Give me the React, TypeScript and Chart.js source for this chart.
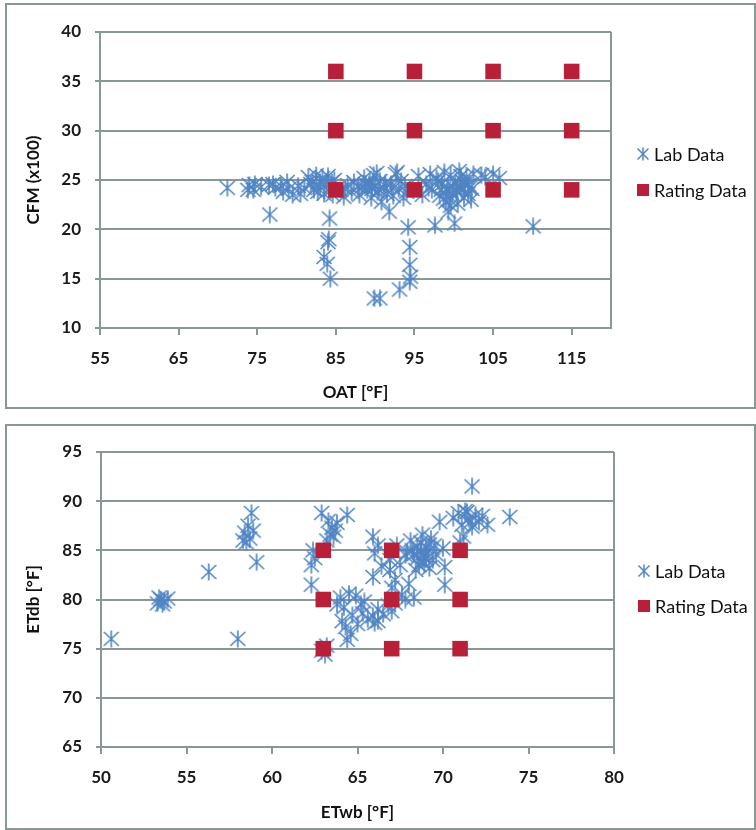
import React, { useEffect, useRef } from "react";
import { Chart, registerables } from "chart.js";
Chart.register(...registerables);

// ---------- Top chart data: OAT vs CFM (x100) ----------
const topLabOAT = [
  71.2, 73.8, 74.0, 74.5, 74.7, 76.5, 77.0, 77.3, 76.6, 78.0, 78.3, 79.0, 79.5, 80.2, 80.5, 81.0,
  81.5, 82.0, 82.2, 82.5, 83.0, 83.3, 83.5, 83.8, 84.0, 84.4, 84.6, 84.8, 84.2, 84.0, 84.1, 83.5,
  83.9, 84.3, 85.6, 86.0, 86.5, 87.0, 87.3, 88.0, 88.3, 88.6, 89.0, 89.3, 89.5, 89.8, 90.0, 90.3,
  90.6, 90.8, 91.1, 91.5, 92.0, 92.3, 92.6, 93.0, 93.3, 93.6, 91.8, 94.2, 94.4, 94.4, 94.4, 94.5,
  93.1, 89.9, 90.6, 95.5, 96.0, 96.5, 97.2, 97.6, 97.8, 98.2, 98.5, 98.8, 99.0, 99.3, 99.3, 99.6,
  99.8, 100.1, 100.2, 100.5, 100.7, 101.0, 101.3, 101.6, 101.9, 102.2, 102.5, 102.3, 103.5, 104.0,
  105.0, 105.8, 110.1, 83.0, 82.7, 88.8, 89.6, 98.0, 100.9, 101.4, 99.5, 97.0, 92.8, 90.2,
  81.8, 84.5, 86.2, 87.8, 89.2, 90.5, 91.3, 92.1, 96.8, 98.4, 99.1, 99.9, 100.4, 100.8, 101.2,
  101.8, 102.0, 98.7, 99.6, 100.3, 93.8, 94.0, 75.5, 78.8,
];
const topLabCFM = [
  24.2, 24.0, 24.5, 24.0, 24.6, 24.5, 24.6, 24.2, 21.5, 24.4, 23.8, 24.1, 23.5, 24.4, 23.6, 24.2,
  25.3, 24.8, 24.0, 25.5, 24.3, 25.2, 23.6, 24.6, 25.4, 24.0, 23.5, 25.0, 21.1, 18.7, 19.0, 17.2,
  16.5, 15.0, 24.0, 23.3, 24.5, 23.8, 24.8, 23.5, 24.3, 25.2, 24.0, 24.8, 23.2, 25.5, 24.4, 23.8,
  24.9, 22.8, 24.2, 23.6, 24.6, 23.4, 25.6, 24.1, 24.9, 23.2, 21.8, 20.2, 18.2, 16.4, 14.7, 15.2,
  13.9, 13.0, 13.0, 25.4, 23.5, 24.6, 24.0, 20.4, 25.2, 23.4, 24.6, 25.8, 22.8, 21.8, 24.2, 25.5,
  23.6, 20.6, 24.8, 22.6, 25.9, 24.0, 23.2, 25.3, 24.5, 23.0, 25.6, 24.1, 25.5, 25.3,
  25.6, 25.2, 20.3, 24.8, 23.8, 24.6, 24.1, 24.9, 25.4, 24.6, 23.0, 25.6, 25.8, 25.7,
  24.6, 24.8, 24.1, 24.3, 24.5, 24.0, 24.7, 24.3, 24.2, 24.0, 23.9, 24.3, 23.8, 24.4, 24.8,
  23.6, 24.2, 23.1, 22.4, 23.9, 24.4, 23.8, 24.3, 24.8,
];
const topRatingOAT = [85, 85, 85, 95, 95, 95, 105, 105, 105, 115, 115, 115];
const topRatingCFM = [36, 30, 24, 36, 30, 24, 36, 30, 24, 36, 30, 24];
const topXTicks = [55, 65, 75, 85, 95, 105, 115];
const topYTicks = [10, 15, 20, 25, 30, 35, 40];

// ---------- Bottom chart data: ETwb vs ETdb ----------
const botLabETwb = [
  50.6, 58.0, 56.3, 59.1,
  53.3, 53.5, 53.7, 53.6, 53.9, 53.4,
  58.8, 58.6, 58.4, 58.7, 58.5, 58.9, 58.3,
  62.4, 62.3, 62.3, 62.5,
  62.9, 63.3, 63.5, 63.8, 63.4, 63.6, 63.2, 64.4, 63.7,
  63.1, 63.2, 62.9,
  64.0, 64.5, 64.9, 65.2, 64.2, 64.7, 65.3, 65.6, 65.0, 64.3, 64.6, 64.4, 65.9, 66.2, 65.4, 63.8,
  64.1, 66.5, 66.8, 67.0, 66.0,
  65.9, 66.0, 65.9, 66.2, 66.4,
  66.9, 66.9, 67.2, 67.0, 67.5, 67.3, 67.8, 67.6, 68.0, 68.3,
  68.2, 68.5, 68.7, 68.9, 69.1, 69.3, 68.4, 68.8, 69.0, 69.4, 68.6, 69.2, 68.1, 69.5, 68.9,
  70.0, 70.1, 70.1, 69.8,
  70.6, 70.9, 71.1, 71.3, 71.5, 71.7, 71.9, 72.1, 72.3, 72.6, 71.2, 71.0, 71.7, 73.9,
  66.2, 67.2, 67.8,
  68.3, 68.7, 69.0, 69.2, 68.5, 68.8, 67.9, 69.6, 71.4, 71.6,
];
const botLabETdb = [
  76.0, 76.0, 82.8, 83.8,
  79.6, 80.0, 79.8, 79.5, 80.1, 80.2,
  88.8, 87.5, 86.8, 86.2, 85.8, 87.0, 86.0,
  85.0, 83.5, 81.5, 84.2,
  88.8, 88.0, 87.3, 87.8, 86.6, 86.4, 86.0, 88.6, 87.0,
  74.4, 75.3, 74.8,
  80.2, 80.6, 80.4, 79.5, 79.2, 78.4, 78.6, 78.0, 77.5, 77.2, 76.5, 75.9, 78.3, 79.0, 79.8, 79.5,
  77.8, 78.5, 79.4, 78.8, 77.6,
  86.4, 84.7, 82.3, 85.5, 83.4,
  84.0, 83.0, 82.0, 81.2, 83.5, 85.5, 84.5, 80.5, 81.6, 80.2,
  85.0, 84.2, 85.8, 83.6, 84.8, 86.2, 83.0, 86.6, 85.3, 84.0, 83.5, 83.2, 86.0, 85.5, 84.4,
  85.2, 83.3, 81.5, 87.9,
  88.3, 88.8, 87.6, 89.0, 88.2, 87.4, 88.6, 87.9, 88.5, 87.6, 86.4, 85.8, 91.5, 88.4,
  77.8, 79.6, 80.0,
  84.6, 84.9, 84.1, 85.6, 85.4, 83.9, 84.8, 84.6, 88.9, 87.9,
];
const botRatingETwb = [63, 63, 63, 67, 67, 67, 71, 71, 71];
const botRatingETdb = [85, 80, 75, 85, 80, 75, 85, 80, 75];
const botXTicks = [50, 55, 60, 65, 70, 75, 80];
const botYTicks = [65, 70, 75, 80, 85, 90, 95];

const BLUE = "#4f84c4";
const RED = "#b8203a";
const GRID = "#8a9894";
const FONT = "Lato, 'Open Sans', sans-serif";

function makeStar(): HTMLCanvasElement {
  const c = document.createElement("canvas");
  c.width = 18;
  c.height = 18;
  const ctx = c.getContext("2d")!;
  ctx.strokeStyle = BLUE;
  ctx.lineWidth = 1.6;
  ctx.lineCap = "butt";
  ctx.beginPath();
  ctx.moveTo(9, 0.5);
  ctx.lineTo(9, 17.5);
  ctx.moveTo(1.5, 2);
  ctx.lineTo(16.5, 16);
  ctx.moveTo(16.5, 2);
  ctx.lineTo(1.5, 16);
  ctx.stroke();
  return c;
}

const framePlugin = {
  id: "frame",
  beforeDatasetsDraw(chart: any) {
    const { ctx, chartArea } = chart;
    ctx.save();
    ctx.strokeStyle = GRID;
    ctx.lineWidth = 2;
    ctx.beginPath();
    ctx.moveTo(Math.round(chartArea.right), chartArea.top);
    ctx.lineTo(Math.round(chartArea.right), chartArea.bottom);
    ctx.stroke();
    ctx.restore();
  },
};

type Cfg = {
  labX: number[];
  labY: number[];
  ratX: number[];
  ratY: number[];
  xTicks: number[];
  yTicks: number[];
  xMin: number;
  xMax: number;
  yMin: number;
  yMax: number;
  xTitle: string;
  yTitle: string;
  padTop: number;
  padRight: number;
  yWidth: number;
  xHeight: number;
};

function buildChart(canvas: HTMLCanvasElement, c: Cfg) {
  const star = makeStar();
  const tickFont = { family: FONT, size: 17, weight: "bold" as const };
  const titleFont = { family: FONT, size: 17, weight: "bold" as const };
  return new Chart(canvas, {
    type: "scatter",
    data: {
      datasets: [
        {
          label: "Rating Data",
          data: c.ratX.map((x, i) => ({ x, y: c.ratY[i] })),
          pointStyle: "rect",
          pointRadius: 11,
          pointHoverRadius: 11,
          backgroundColor: RED,
          borderColor: RED,
          borderWidth: 0,
          order: 0,
        },
        {
          label: "Lab Data",
          data: c.labX.map((x, i) => ({ x, y: c.labY[i] })),
          pointStyle: star as any,
          pointRadius: 8,
          backgroundColor: BLUE,
          borderColor: BLUE,
          order: 1,
        },
      ],
    },
    options: {
      animation: false,
      responsive: false,
      maintainAspectRatio: false,
      layout: { padding: { left: 0, top: c.padTop, right: c.padRight, bottom: 0 } },
      plugins: { legend: { display: false }, tooltip: { enabled: false } },
      scales: {
        x: {
          type: "linear",
          min: c.xMin,
          max: c.xMax,
          afterBuildTicks: (s: any) => {
            s.ticks = c.xTicks.map((v) => ({ value: v }));
          },
          afterFit: (s: any) => {
            s.height = c.xHeight;
          },
          grid: { drawOnChartArea: false, color: GRID, lineWidth: 2, tickLength: 7 },
          border: { color: GRID, width: 2 },
          ticks: { font: tickFont, color: "#1a1a1a", padding: 13, maxRotation: 0 },
          title: {
            display: true,
            text: c.xTitle,
            font: titleFont,
            color: "#111",
            padding: { top: 0, bottom: 7 },
          },
        },
        y: {
          type: "linear",
          min: c.yMin,
          max: c.yMax,
          afterBuildTicks: (s: any) => {
            s.ticks = c.yTicks.map((v) => ({ value: v }));
          },
          afterFit: (s: any) => {
            s.width = c.yWidth;
          },
          grid: { color: GRID, lineWidth: 2, tickLength: 5 },
          border: { color: GRID, width: 2 },
          ticks: { font: tickFont, color: "#1a1a1a", padding: 14 },
          title: {
            display: true,
            text: c.yTitle,
            font: titleFont,
            color: "#111",
            padding: { top: 23, bottom: 0 },
          },
        },
      },
    },
    plugins: [framePlugin],
  });
}

function StarIcon() {
  return (
    <svg width="14" height="14" viewBox="0 0 14 14" style={{ display: "block" }}>
      <g stroke={BLUE} strokeWidth="1.5">
        <line x1="7" y1="0.5" x2="7" y2="13.5" />
        <line x1="1.5" y1="1.5" x2="12.5" y2="12.5" />
        <line x1="12.5" y1="1.5" x2="1.5" y2="12.5" />
      </g>
    </svg>
  );
}

function Legend({ left, labY, ratY }: { left: number; labY: number; ratY: number }) {
  const textStyle: React.CSSProperties = {
    position: "absolute",
    left: left + 11,
    fontFamily: FONT,
    fontSize: 18,
    color: "#111",
    lineHeight: "20px",
    whiteSpace: "nowrap",
  };
  return (
    <>
      <div style={{ position: "absolute", left: left - 7, top: labY - 7 }}>
        <StarIcon />
      </div>
      <div style={{ ...textStyle, top: labY - 10 }}>Lab Data</div>
      <div
        style={{
          position: "absolute",
          left: left - 6,
          top: ratY - 6,
          width: 12,
          height: 12,
          background: RED,
        }}
      />
      <div style={{ ...textStyle, top: ratY - 10 }}>Rating Data</div>
    </>
  );
}

export default function App() {
  const topRef = useRef<HTMLCanvasElement>(null);
  const botRef = useRef<HTMLCanvasElement>(null);

  useEffect(() => {
    const top = buildChart(topRef.current!, {
      labX: topLabOAT,
      labY: topLabCFM,
      ratX: topRatingOAT,
      ratY: topRatingCFM,
      xTicks: topXTicks,
      yTicks: topYTicks,
      xMin: 55,
      xMax: 120,
      yMin: 10,
      yMax: 40,
      xTitle: "OAT [°F]",
      yTitle: "CFM (x100)",
      padTop: 32,
      padRight: 756 - 611,
      yWidth: 100,
      xHeight: 410 - 328,
    });
    const bot = buildChart(botRef.current!, {
      labX: botLabETwb,
      labY: botLabETdb,
      ratX: botRatingETwb,
      ratY: botRatingETdb,
      xTicks: botXTicks,
      yTicks: botYTicks,
      xMin: 50,
      xMax: 80,
      yMin: 65,
      yMax: 95,
      xTitle: "ETwb [°F]",
      yTitle: "ETdb [°F]",
      padTop: 34,
      padRight: 756 - 614,
      yWidth: 101,
      xHeight: 412 - 329,
    });
    return () => {
      top.destroy();
      bot.destroy();
    };
  }, []);

  const panel: React.CSSProperties = {
    position: "absolute",
    left: 5,
    width: 751,
    height: 406,
    boxSizing: "border-box",
    border: `2px solid ${GRID}`,
    pointerEvents: "none",
  };

  return (
    <div
      style={{
        position: "absolute",
        left: 0,
        top: 0,
        width: 756,
        height: 830,
        background: "#fff",
        overflow: "hidden",
      }}
    >
      <canvas
        ref={topRef}
        width={756}
        height={410}
        style={{ position: "absolute", left: 0, top: 0, width: 756, height: 410 }}
      />
      <canvas
        ref={botRef}
        width={756}
        height={412}
        style={{ position: "absolute", left: 0, top: 418, width: 756, height: 412 }}
      />
      <div style={{ ...panel, top: 3 }} />
      <div style={{ ...panel, top: 424 }} />
      <Legend left={643} labY={154} ratY={190} />
      <Legend left={644} labY={571} ratY={606} />
    </div>
  );
}
